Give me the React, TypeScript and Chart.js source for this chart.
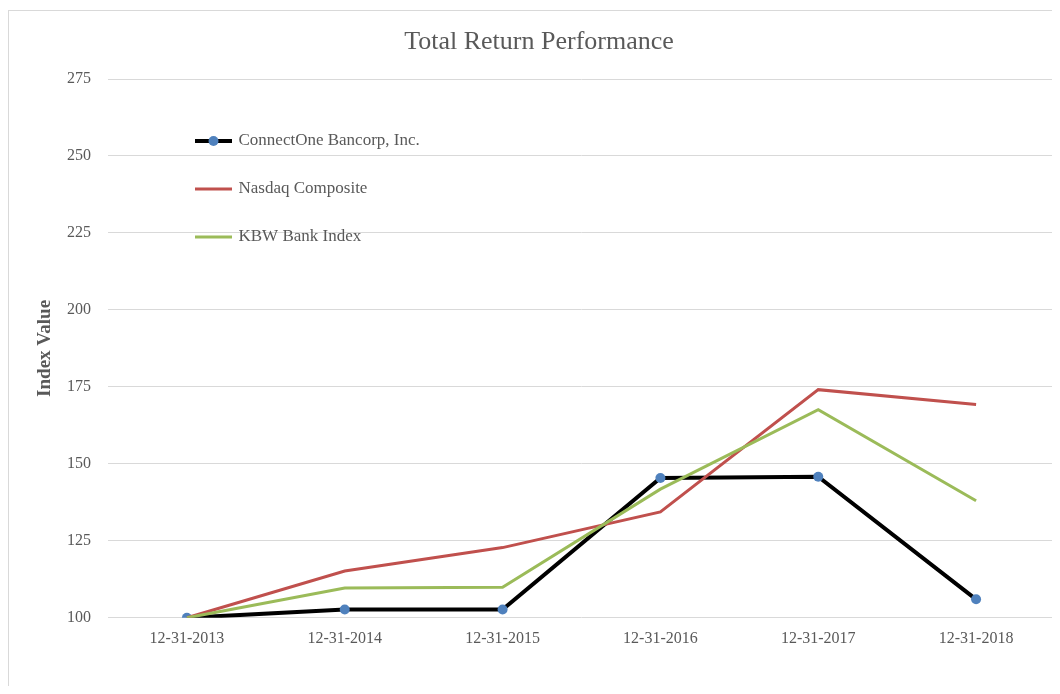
import React, { useEffect, useRef } from "react";
import { Chart, registerables } from "chart.js";

Chart.register(...registerables);

const categories = ["12-31-2013", "12-31-2014", "12-31-2015", "12-31-2016", "12-31-2017", "12-31-2018"];
const connectOneValues = [100, 102.7, 102.7, 145.4, 145.8, 106];
const nasdaqValues = [100, 115.2, 122.8, 134.4, 174.1, 169.3];
const kbwValues = [100, 109.7, 109.9, 141.8, 167.6, 138];
const seriesNames = ["ConnectOne Bancorp, Inc.", "Nasdaq Composite", "KBW Bank Index"];
const yMin = 100;
const yMax = 275;
const yStep = 25;

const FONT = "'Liberation Serif', 'Times New Roman', serif";
const TEXT = "#595959";
const BLACK = "#000000";
const BLUE = "#4f81bd";
const RED = "#c0504d";
const GREEN = "#9bbb59";
const GRID = "#d9d9d9";

function makeLegendIcon(color: string, width: number, marker: string | null): HTMLCanvasElement {
  const c = document.createElement("canvas");
  c.width = 37;
  c.height = 12;
  const ctx = c.getContext("2d")!;
  ctx.strokeStyle = color;
  ctx.lineWidth = width;
  ctx.beginPath();
  ctx.moveTo(0, 6);
  ctx.lineTo(37, 6);
  ctx.stroke();
  if (marker) {
    ctx.fillStyle = marker;
    ctx.beginPath();
    ctx.arc(18.5, 6, 5, 0, Math.PI * 2);
    ctx.fill();
  }
  return c;
}

const boxShift = {
  id: "boxShift",
  afterLayout(chart: any) {
    const lg = chart.legend;
    const ca = chart.chartArea;
    if (lg) {
      const h = lg.height;
      const w = lg.width;
      lg.left = ca.left + 58;
      lg.top = ca.top + 22.5;
      lg.right = lg.left + w;
      lg.bottom = lg.top + h;
    }
    const tb = chart.titleBlock;
    if (tb) {
      tb.left += 7;
      tb.right += 7;
    }
  },
};

export default function App() {
  const ref = useRef<HTMLCanvasElement | null>(null);

  useEffect(() => {
    if (!ref.current) return;
    const icons = [
      makeLegendIcon(BLACK, 4, BLUE),
      makeLegendIcon(RED, 3, null),
      makeLegendIcon(GREEN, 3, null),
    ];
    const colors = [BLACK, RED, GREEN];
    const chart = new Chart(ref.current, {
      type: "line",
      data: {
        labels: categories,
        datasets: [
          {
            label: seriesNames[0],
            data: connectOneValues,
            borderColor: BLACK,
            borderWidth: 4,
            pointRadius: 5,
            pointBackgroundColor: BLUE,
            pointBorderColor: BLUE,
            pointBorderWidth: 0,
            tension: 0,
            order: 3,
          },
          {
            label: seriesNames[1],
            data: nasdaqValues,
            borderColor: RED,
            borderWidth: 3,
            pointRadius: 0,
            tension: 0,
            order: 2,
          },
          {
            label: seriesNames[2],
            data: kbwValues,
            borderColor: GREEN,
            borderWidth: 3,
            pointRadius: 0,
            tension: 0,
            order: 1,
          },
        ],
      },
      options: {
        responsive: false,
        animation: false,
        layout: { padding: { left: 0, right: 5, top: 0, bottom: 35 } },
        plugins: {
          title: {
            display: true,
            text: "Total Return Performance",
            color: TEXT,
            font: { family: FONT, size: 26, weight: "normal" },
            padding: { top: 15.4, bottom: 21.4 },
          },
          legend: {
            display: true,
            position: "chartArea" as any,
            align: "start",
            labels: {
              usePointStyle: true,
              pointStyleWidth: 33,
              padding: 31,
              color: TEXT,
              font: { family: FONT, size: 17 },
              generateLabels: () =>
                seriesNames.map((name, i) => ({
                  text: name,
                  fillStyle: colors[i],
                  strokeStyle: colors[i],
                  lineWidth: 0,
                  pointStyle: icons[i] as any,
                  datasetIndex: i,
                  hidden: false,
                  fontColor: TEXT,
                })),
            },
          },
          tooltip: { enabled: false },
        },
        scales: {
          x: {
            offset: true,
            grid: { display: false },
            border: { display: false },
            ticks: {
              color: TEXT,
              font: { family: FONT, size: 16 },
              padding: 3,
              maxRotation: 0,
              autoSkip: false,
            },
          },
          y: {
            min: yMin,
            max: yMax,
            grid: { color: GRID, lineWidth: 1, drawTicks: false },
            border: { display: false },
            ticks: {
              stepSize: yStep,
              color: TEXT,
              font: { family: FONT, size: 16 },
              padding: 17,
            },
            title: {
              display: true,
              text: "Index Value",
              color: TEXT,
              font: { family: FONT, size: 19, weight: "bold" },
              padding: { top: 24.6, bottom: 0 },
            },
            afterFit: (scale: any) => {
              scale.width = 99;
            },
          },
        },
      },
      plugins: [boxShift],
    });
    return () => chart.destroy();
  }, []);

  return (
    <div style={{ paddingTop: 2 }}>
      <div
        style={{
          width: 1052,
          height: 676,
          boxSizing: "border-box",
          borderTop: `1px solid ${GRID}`,
          borderLeft: `1px solid ${GRID}`,
          background: "#ffffff",
        }}
      >
        <canvas ref={ref} width={1051} height={675} style={{ display: "block" }} />
      </div>
    </div>
  );
}
